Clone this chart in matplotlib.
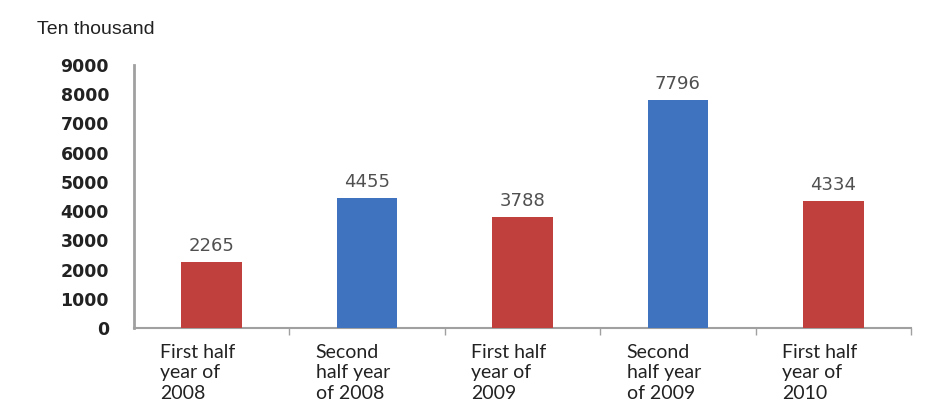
import numpy as np
import matplotlib.pyplot as plt

categories = ["First half\nyear of\n2008", "Second\nhalf year\nof 2008",
              "First half\nyear of\n2009", "Second\nhalf year\nof 2009",
              "First half\nyear of\n2010"]
values = [2265, 4455, 3788, 7796, 4334]
bar_colors = ["#C0403E", "#3F72BF", "#C0403E", "#3F72BF", "#C0403E"]
y_ticks = [0, 1000, 2000, 3000, 4000, 5000, 6000, 7000, 8000, 9000]

fig = plt.figure(figsize=(9.31, 4.05), dpi=100)
ax = fig.add_axes([134 / 931, 1 - 328 / 405, (911 - 134) / 931, (328 - 65) / 405])

x = np.arange(len(values))
ax.bar(x, values, width=0.39, color=bar_colors, zorder=3)

for xi, v in zip(x, values):
    ax.text(xi, v + 250, str(v), ha="center", va="bottom",
            fontsize=13, color="#505050", family="DejaVu Sans")

ax.set_xlim(-0.5, len(values) - 0.5)
ax.set_ylim(0, 9000)
ax.set_yticks(y_ticks)
ax.set_yticklabels([str(t) for t in y_ticks], fontsize=12.5, fontweight="bold",
                   color="#222222", family="DejaVu Sans")
ax.tick_params(axis="y", length=0, pad=18)

# category separators on the x axis
ax.set_xticks(np.arange(len(values)) + 0.5)
ax.set_xticklabels([])
ax.tick_params(axis="x", length=5, width=1, color="#A0A0A0", direction="out")

for xi, lab in zip(x, categories):
    ax.text(xi - 0.33, -560, lab, ha="left", va="top", fontsize=14,
            color="#222222", family="Lato", linespacing=1.22,
            transform=ax.transData, clip_on=False)

for s in ["top", "right"]:
    ax.spines[s].set_visible(False)
ax.spines["left"].set_color("#A0A0A0")
ax.spines["left"].set_linewidth(2)
ax.spines["bottom"].set_color("#A0A0A0")
ax.spines["bottom"].set_linewidth(1.5)

fig.text(37 / 931, 1 - 30 / 405, "Ten thousand", ha="left", va="center",
         fontsize=14, color="#222222", family="Liberation Sans")

fig.savefig("out.png", dpi=100)
